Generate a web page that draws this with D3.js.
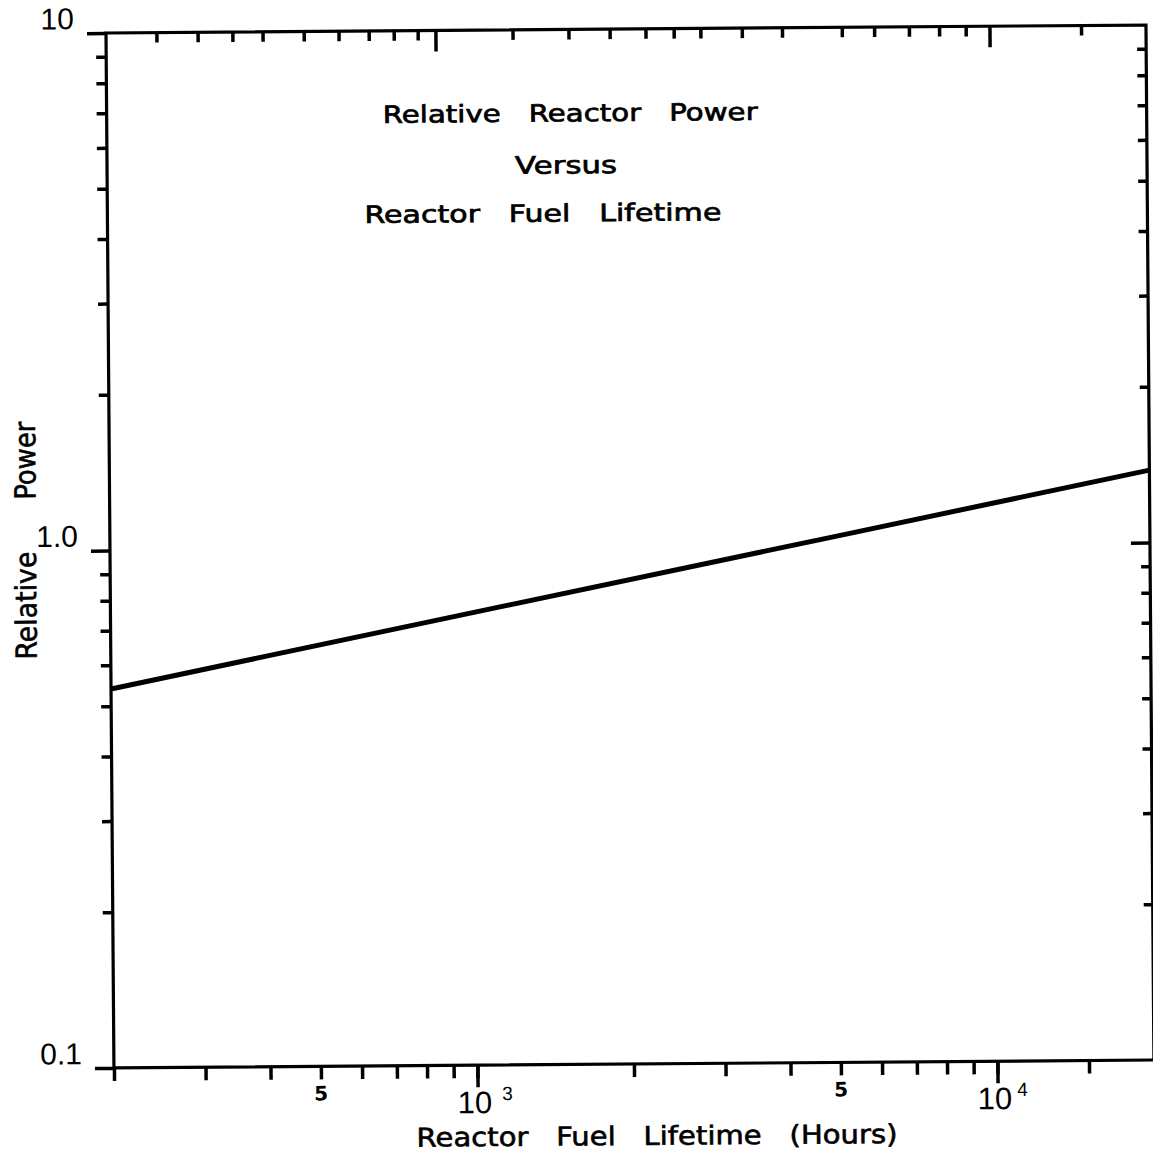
<!DOCTYPE html>
<html>
<head>
<meta charset="utf-8">
<script src="https://cdn.jsdelivr.net/npm/d3@7"></script>
<style>
  body { margin: 0; background: #fff; }
  svg { display: block; }
</style>
</head>
<body>
<div id="chart"></div>
<script>
// Data
const hours = [200, 1000, 5000, 20000];
const relPower = [0.54, 0.75, 1.04, 1.38];

const bottomTicks = [200, 300, 400, 500, 600, 700, 800, 900, 1000, 2000, 3000, 4000,
                     5000, 6000, 7000, 8000, 9000, 10000, 15000];
const bottomMajor = [1000, 10000];
const topTicks = [250, 300, 350, 400, 480, 560, 640, 715, 795, 1210, 1550, 1860, 2180,
                  2470, 2780, 3340, 3990, 5200, 6000, 7000, 8000, 9000, 15000];
const topMajor = [860, 10000];
const yMinor = [0.2, 0.3, 0.4, 0.5, 0.6, 0.7, 0.8, 0.9, 2, 3, 4, 5, 6, 7, 8, 9];
const yMajor = [0.1, 1, 10];
const yLabels = ["0.1", "1.0", "10"];
const fiveTicks = [500, 5000];
const decadeTicks = [1000, 10000];
const decadeExp = ["3", "4"];

const titleLines = ["Relative   Reactor   Power", "Versus", "Reactor   Fuel   Lifetime"];

function render() {
  const container = d3.select("#chart");
  container.selectAll("*").remove();

  const W = 1040, H = 1035;

  const svg = container.append("svg")
    .attr("width", 1153)
    .attr("height", 1157)
    .style("background", "#fff");

  // scan is slightly rotated
  const g = svg.append("g")
    .attr("transform", "translate(106,33) rotate(-0.44)");

  const x = d3.scaleLog().domain([200, 20000]).range([0, W]);
  const y = d3.scaleLog().domain([0.1, 10]).range([H, 0]);

  const styleAxis = sel => {
    sel.select(".domain").remove();
    sel.selectAll(".tick line").attr("stroke", "#000").attr("stroke-width", 3.5);
  };

  // bottom
  g.append("g").attr("transform", `translate(0,${H})`)
    .call(d3.axisBottom(x).tickValues(bottomTicks).tickSize(13).tickFormat(""))
    .call(styleAxis);
  g.append("g").attr("transform", `translate(0,${H})`)
    .call(d3.axisBottom(x).tickValues(bottomMajor).tickSize(22).tickFormat(""))
    .call(styleAxis);
  // top (ticks inward)
  g.append("g")
    .call(d3.axisBottom(x).tickValues(topTicks).tickSize(10).tickFormat(""))
    .call(styleAxis);
  g.append("g")
    .call(d3.axisBottom(x).tickValues(topMajor).tickSize(21).tickFormat(""))
    .call(styleAxis);
  // left (ticks outward)
  g.append("g")
    .call(d3.axisLeft(y).tickValues(yMinor).tickSize(10).tickFormat(""))
    .call(styleAxis);
  g.append("g")
    .call(d3.axisLeft(y).tickValues(yMajor).tickSize(19).tickFormat(""))
    .call(styleAxis);
  // right (ticks inward)
  g.append("g").attr("transform", `translate(${W},0)`)
    .call(d3.axisLeft(y).tickValues(yMinor).tickSize(9).tickFormat(""))
    .call(styleAxis);
  g.append("g").attr("transform", `translate(${W},0)`)
    .call(d3.axisLeft(y).tickValues([1]).tickSize(19).tickFormat(""))
    .call(styleAxis);

  // frame
  g.append("rect")
    .attr("width", W)
    .attr("height", H)
    .attr("fill", "none")
    .attr("stroke", "#000")
    .attr("stroke-width", 3.2);

  // curve
  const data = hours.map((h, i) => ({ h, p: relPower[i] }));
  g.append("path")
    .datum(data)
    .attr("fill", "none")
    .attr("stroke", "#000")
    .attr("stroke-width", 5)
    .attr("d", d3.line().x(d => x(d.h)).y(d => y(d.p)));

  // y tick labels
  g.selectAll("text.ylab")
    .data(yMajor)
    .join("text")
    .attr("class", "ylab")
    .attr("x", -32)
    .attr("y", d => y(d) - 4)
    .attr("text-anchor", "end")
    .style("font-family", "Liberation Sans, sans-serif")
    .style("font-size", "30px")
    .text((d, i) => yLabels[i]);

  // x tick labels
  g.selectAll("text.five")
    .data(fiveTicks)
    .join("text")
    .attr("class", "five")
    .attr("x", d => x(d))
    .attr("y", H + 34)
    .attr("text-anchor", "middle")
    .style("font-family", "DejaVu Sans, sans-serif")
    .style("font-weight", "bold")
    .style("font-size", "20px")
    .text("5");

  const dec = g.selectAll("text.dec")
    .data(decadeTicks)
    .join("text")
    .attr("class", "dec")
    .attr("x", d => x(d) - 20)
    .attr("y", H + 48)
    .style("font-family", "Liberation Sans, sans-serif")
    .style("font-size", "31px");
  dec.append("tspan").text("10");
  dec.append("tspan")
    .attr("dx", (d, i) => i === 0 ? 10 : 5)
    .attr("dy", -13)
    .style("font-size", "19px")
    .text((d, i) => decadeExp[i]);

  // titles
  const font = "DejaVu Sans, sans-serif";
  const titlePos = [[276, 92, 375], [408, 144, 102], [257, 192, 357]];
  g.selectAll("text.title")
    .data(titleLines)
    .join("text")
    .attr("class", "title")
    .attr("x", (d, i) => titlePos[i][0])
    .attr("y", (d, i) => titlePos[i][1])
    .attr("textLength", (d, i) => titlePos[i][2])
    .attr("lengthAdjust", "spacingAndGlyphs")
    .attr("stroke", "#000")
    .attr("stroke-width", 0.7)
    .style("font-family", font)
    .style("font-size", "24px")
    .style("white-space", "pre")
    .text(d => d);

  // x axis title
  g.append("text")
    .attr("x", 302)
    .attr("y", H + 81)
    .attr("textLength", 481)
    .attr("lengthAdjust", "spacingAndGlyphs")
    .attr("stroke", "#000")
    .attr("stroke-width", 0.6)
    .style("font-family", font)
    .style("font-size", "26px")
    .style("white-space", "pre")
    .text("Reactor   Fuel   Lifetime   (Hours)");

  // y axis title
  const yTitle = [["Relative", 626, 108], ["Power", 466, 78]];
  g.selectAll("text.ytitle")
    .data(yTitle)
    .join("text")
    .attr("class", "ytitle")
    .attr("transform", d => `translate(-74,${d[1]}) rotate(-90)`)
    .attr("textLength", d => d[2])
    .attr("lengthAdjust", "spacingAndGlyphs")
    .attr("stroke", "#000")
    .attr("stroke-width", 0.6)
    .style("font-family", font)
    .style("font-size", "29px")
    .text(d => d[0]);
}

render();
</script>
</body>
</html>
